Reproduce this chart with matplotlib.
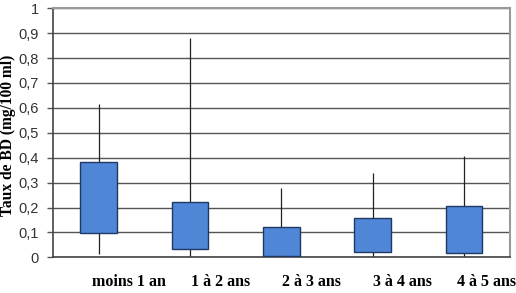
import matplotlib
matplotlib.use("Agg")
import matplotlib.pyplot as plt
import numpy as np
from matplotlib.ticker import FuncFormatter, MultipleLocator

# données
categories = ["moins 1 an", "1 à 2 ans", "2 à 3 ans", "3 à 4 ans", "4 à 5 ans"]
whisker_low = [0.012, 0.0, 0.0, 0.0, 0.0]
q_low = [0.096, 0.033, 0.006, 0.021, 0.019]
q_high = [0.384, 0.221, 0.123, 0.159, 0.205]
whisker_high = [0.616, 0.882, 0.277, 0.337, 0.407]

fig = plt.figure(figsize=(5.16, 2.93), dpi=100)
ax = fig.add_axes([0.1027, 0.1218, 0.8853, 0.8499])

x = np.arange(len(categories)) + 0.5
low = np.array(q_low)
high = np.array(q_high)

# moustaches
ax.vlines(x, whisker_low, whisker_high, color="#222222", linewidth=0.9, zorder=2)
# boîtes
ax.bar(x, high - low, bottom=low, width=0.4, color="#4f86d6",
       edgecolor="#1f3864", linewidth=1, zorder=3)

ax.set_xlim(0, len(categories))
ax.set_ylim(0, 1)
ax.yaxis.set_major_locator(MultipleLocator(0.1))
ax.yaxis.set_major_formatter(FuncFormatter(
    lambda v, p: f"{v:.1f}".replace(".", ",").replace(",0", "")))
ax.grid(axis="y", color="#555555", linewidth=1, zorder=1)
ax.set_axisbelow(True)

# étiquettes décalées à droite
offsets = np.array([0.33, 0.33, 0.33, 0.33, 0.25])
ax.set_xticks(x + offsets)
ax.set_xticklabels(categories, fontfamily="Liberation Serif", fontweight="bold",
                   fontsize=11.5)
ax.tick_params(axis="x", length=0, pad=12)
ax.tick_params(axis="y", length=4, width=1, color="#555555", labelsize=10.5,
               labelcolor="#333333", pad=6)
for lab in ax.get_yticklabels():
    lab.set_fontfamily("Liberation Sans")

ax.set_ylabel("Taux de BD (mg/100 ml)", fontfamily="Liberation Serif",
              fontweight="bold", fontsize=11.2)
ax.yaxis.set_label_coords(-0.080, 0.49)

for side in ["top", "right"]:
    ax.spines[side].set_color("#9a9a9a")
    ax.spines[side].set_linewidth(1.5)
for side in ["left", "bottom"]:
    ax.spines[side].set_color("#444444")
    ax.spines[side].set_linewidth(1.2)

fig.savefig("out.png", dpi=100)
